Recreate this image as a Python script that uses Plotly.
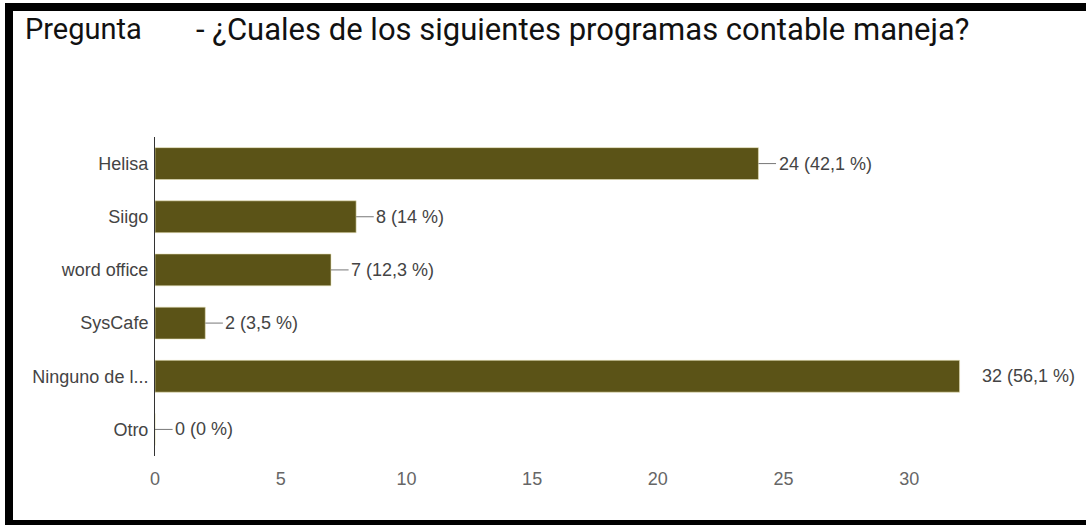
import plotly.graph_objects as go

categories = ["Helisa", "Siigo", "word office", "SysCafe", "Ninguno de l...", "Otro"]
counts = [24, 8, 7, 2, 32, 0]
percents = ["42,1", "14", "12,3", "3,5", "56,1", "0"]
x_ticks = [0, 5, 10, 15, 20, 25, 30]
title_head = "Pregunta"
title_text = "- ¿Cuales de los siguientes programas contable maneja?"

BAR = "#5b5317"
TXT = "#444444"
FONT = "Liberation Sans, Arial, sans-serif"

L, R, T, B = 155, 51, 137, 69
PW, PH = 1086 - L - R, 525 - T - B


def px_x(px):
    return (px - L) / PW


def px_y(py):
    return (525 - B - py) / PH


fig = go.Figure()
fig.add_trace(go.Bar(
    x=counts, y=categories, orientation="h",
    marker=dict(color=BAR, line=dict(color="#e8e2b8", width=0.6)),
    width=0.6, hoverinfo="skip", showlegend=False,
))

annotations = []
shapes = []
for c, v, p in zip(categories, counts, percents):
    if c.startswith("Ninguno"):
        tx = v + 0.8
    else:
        shapes.append(dict(type="line", xref="x", yref="y", x0=v, x1=v + 0.7,
                           y0=c, y1=c, line=dict(color="#777777", width=1)))
        tx = v + 0.72
    annotations.append(dict(x=tx, y=c, xref="x", yref="y", text=f"{v} ({p} %)",
                            showarrow=False, xanchor="left", yanchor="middle",
                            font=dict(family=FONT, size=18, color=TXT)))

# title
annotations.append(dict(
    xref="paper", yref="paper", x=px_x(23), y=px_y(29),
    text=title_head, showarrow=False, xanchor="left", yanchor="middle",
    font=dict(family="Roboto, sans-serif", size=29, color="#111111")))
annotations.append(dict(
    xref="paper", yref="paper", x=px_x(194), y=px_y(29),
    text=title_text, showarrow=False, xanchor="left", yanchor="middle",
    font=dict(family="Roboto, sans-serif", size=31, color="#111111")))

# black frame (left, top, bottom)
frame = [
    (5, 3, 13, 530),     # left
    (5, 3, 1090, 11),    # top
    (5, 520, 1090, 530), # bottom
]
for x0, y0, x1, y1 in frame:
    shapes.append(dict(type="rect", xref="paper", yref="paper",
                       x0=px_x(x0), x1=px_x(x1), y0=px_y(y1), y1=px_y(y0),
                       fillcolor="black", line=dict(width=0), layer="above"))

fig.update_layout(
    width=1086, height=525,
    margin=dict(l=L, r=R, t=T, b=B, autoexpand=False),
    paper_bgcolor="white", plot_bgcolor="white",
    annotations=annotations, shapes=shapes,
    xaxis=dict(range=[0, 35], tickvals=x_ticks, showgrid=False, zeroline=False,
               showline=False, ticks="", ticklabelstandoff=10, automargin=False,
               tickfont=dict(family=FONT, size=18, color="#666666")),
    yaxis=dict(categoryorder="array", categoryarray=categories, autorange="reversed",
               showgrid=False, zeroline=False, showline=True, linecolor="#333333",
               linewidth=1, ticks="", ticklabelstandoff=2, automargin=False,
               tickfont=dict(family=FONT, size=18, color=TXT)),
    bargap=0.4,
)

fig.write_html("out.html", config={"displayModeBar": False},
               post_script="document.body.style.margin='0';document.body.style.overflow='hidden';")
